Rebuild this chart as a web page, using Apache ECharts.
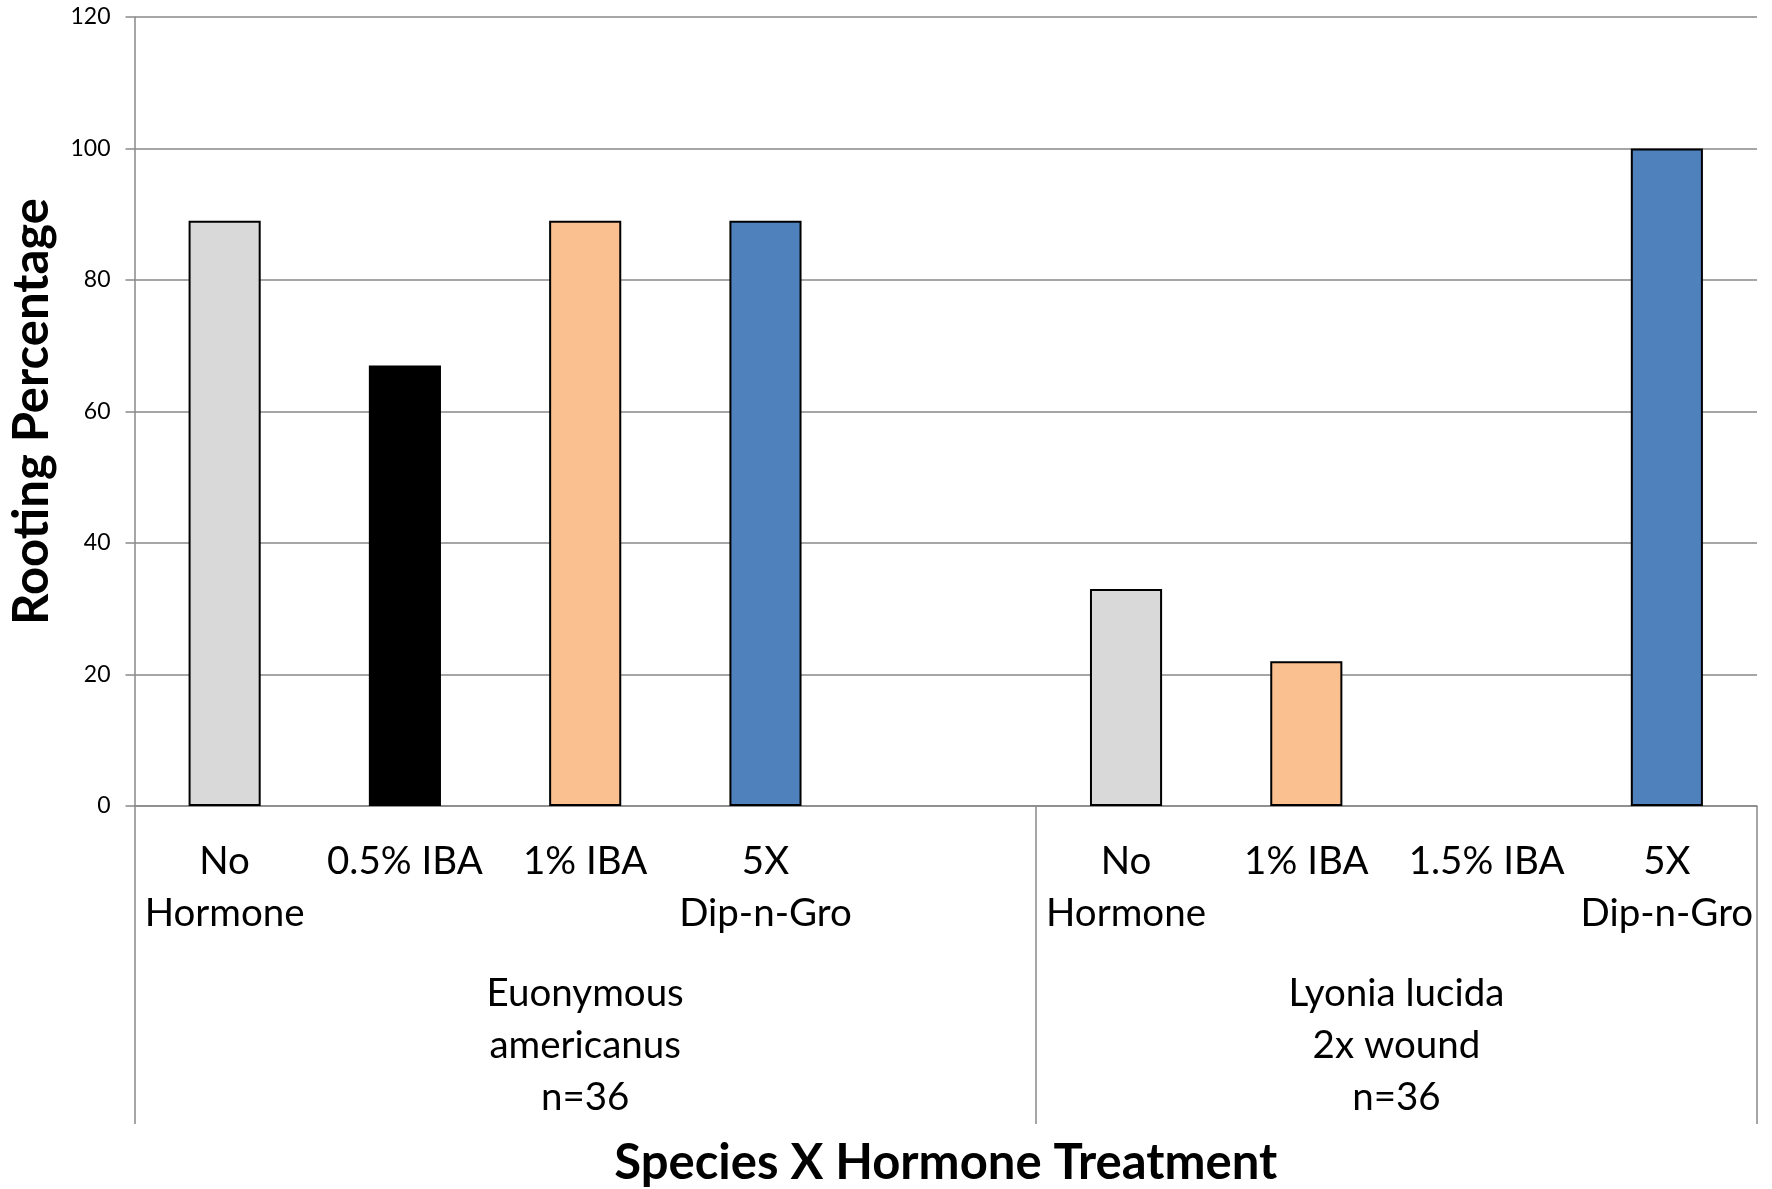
<!DOCTYPE html>
<html>
<head>
<meta charset="utf-8">
<title>Rooting Percentage by Species and Hormone Treatment</title>
<script src="https://cdn.jsdelivr.net/npm/echarts@6/dist/echarts.min.js"></script>
<style>
  html, body { margin: 0; padding: 0; background: #ffffff; }
  #chart { width: 1772px; height: 1189px; }
</style>
</head>
<body>
<div id="chart"></div>
<script>
// Treatment slots along the x axis (blank slot separates the two species)
const treatments = ["No\nHormone", "0.5% IBA", "1% IBA", "5X\nDip-n-Gro", "",
                    "No\nHormone", "1% IBA", "1.5% IBA", "5X\nDip-n-Gro"];
// Rooting percentage per slot
const rooting = [89, 67, 89, 89, null, 33, 22, 0, 100];
// Species groups and the number of slots each spans
const speciesNames = ["Euonymous\namericanus\nn=36", "Lyonia lucida\n2x wound\nn=36"];
const speciesSlots = [5, 4];
// y-axis ticks
const yTicks = [0, 20, 40, 60, 80, 100, 120];

const treatmentColors = {
  "No\nHormone": "#D9D9D9",
  "0.5% IBA": "#000000",
  "1% IBA": "#FAC090",
  "1.5% IBA": "#8064A2",
  "5X\nDip-n-Gro": "#4F81BD"
};

// Group boundaries and centres in slot units
const bounds = [0];
speciesSlots.forEach(n => bounds.push(bounds[bounds.length - 1] + n));
const centres = speciesSlots.map((n, i) => bounds[i] + n / 2);

const FONT = "Lato, 'Open Sans', sans-serif";
const GRAY = "#898989";

const chart = echarts.init(document.getElementById("chart"), null, { renderer: "canvas" });

chart.setOption({
  backgroundColor: "#ffffff",
  animation: false,
  grid: {
    left: 134.5, right: 15, top: 17, bottom: 383,
    containLabel: false, outerBoundsMode: "none"
  },
  xAxis: [
    {
      type: "category",
      data: treatments,
      position: "bottom",
      axisLine: { show: true, lineStyle: { color: GRAY, width: 1.5 } },
      axisTick: { show: false },
      axisLabel: {
        interval: 0, margin: 30, color: "#000", fontFamily: FONT,
        fontSize: 38.5, lineHeight: 52
      },
      name: "Species X Hormone Treatment",
      nameLocation: "middle",
      nameGap: 333,
      nameTextStyle: { fontFamily: FONT, fontWeight: "bold", fontSize: 49, color: "#000" }
    },
    {
      type: "value",
      min: 0,
      max: bounds[bounds.length - 1],
      position: "bottom",
      axisLine: { show: false },
      splitLine: { show: false },
      axisTick: {
        show: true, customValues: bounds, length: 318, inside: false,
        lineStyle: { color: GRAY, width: 1.5 }
      },
      axisLabel: {
        customValues: centres, margin: 162, color: "#000", fontFamily: FONT,
        fontSize: 38.5, lineHeight: 52,
        formatter: v => {
          const i = centres.indexOf(v);
          return i >= 0 ? speciesNames[i] : "";
        }
      }
    }
  ],
  yAxis: {
    type: "value",
    min: yTicks[0],
    max: yTicks[yTicks.length - 1],
    interval: yTicks[1] - yTicks[0],
    axisLine: { show: true, lineStyle: { color: GRAY, width: 1.5 } },
    axisTick: { show: true, length: 9, lineStyle: { color: GRAY, width: 1.5 } },
    axisLabel: { margin: 24, color: "#000", fontFamily: FONT, fontSize: 23 },
    splitLine: { show: true, lineStyle: { color: GRAY, width: 1.5 } },
    name: "Rooting Percentage",
    nameLocation: "middle",
    nameGap: 78,
    nameTextStyle: { fontFamily: FONT, fontWeight: "bold", fontSize: 49, color: "#000" }
  },
  series: [
    {
      type: "bar",
      xAxisIndex: 0,
      barWidth: "40%",
      data: rooting.map((v, i) => ({
        value: v,
        itemStyle: {
          color: treatmentColors[treatments[i]] || "#ffffff",
          borderColor: "#000000",
          borderWidth: v ? 2 : 0
        }
      }))
    }
  ]
});
</script>
</body>
</html>
